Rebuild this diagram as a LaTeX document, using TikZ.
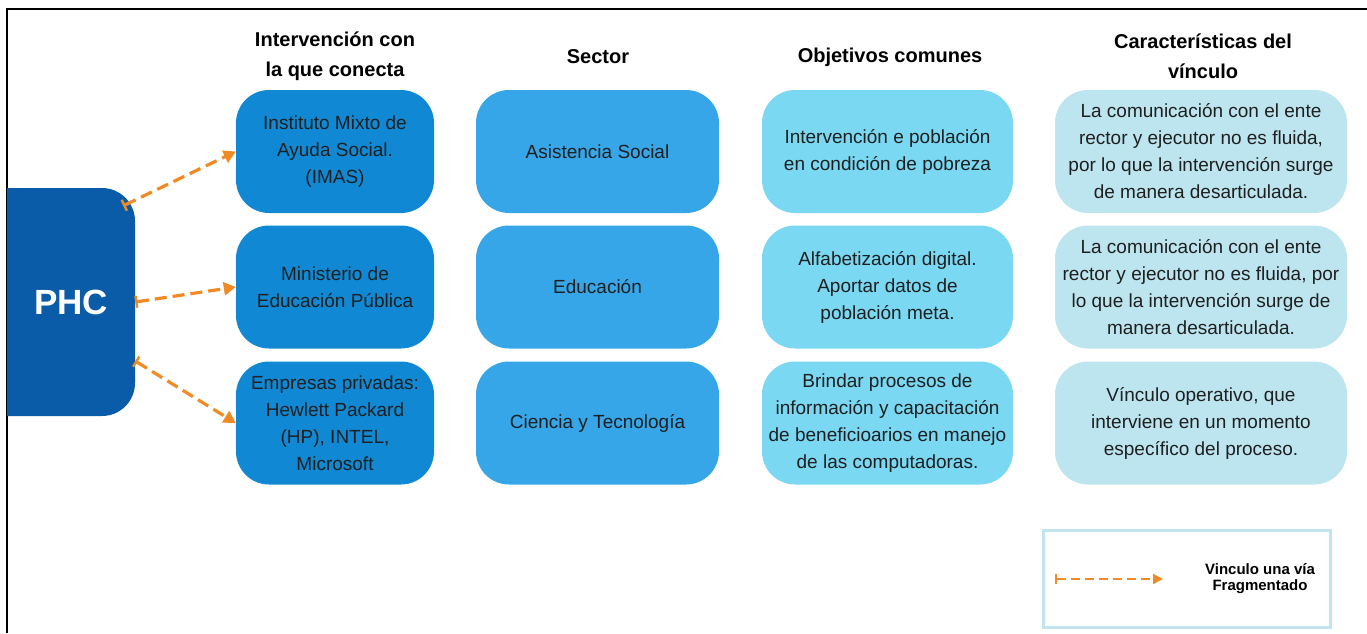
\documentclass[tikz,border=0pt]{standalone}
\usepackage{fontspec}
\setmainfont{Liberation Sans}
\usetikzlibrary{arrows.meta}
\definecolor{phcblue}{HTML}{0B5CA8}
\definecolor{introblue}{HTML}{1188D3}
\definecolor{sectorblue}{HTML}{36A6E8}
\definecolor{goalblue}{HTML}{7AD8F3}
\definecolor{bondblue}{HTML}{BDE5EF}
\definecolor{linkorange}{HTML}{F08A24}
\definecolor{legendframe}{HTML}{C2E4EE}
\tikzstyle{box}=[rounded corners=33pt, minimum height=123pt, inner sep=0pt, align=center, text=black!88, font=\fontsize{19}{27}\selectfont]
\tikzstyle{intervention}=[box, fill=introblue, minimum width=198pt]
\tikzstyle{sector}=[box, fill=sectorblue, minimum width=243pt]
\tikzstyle{goal}=[box, fill=goalblue, minimum width=251pt]
\tikzstyle{bond}=[box, fill=bondblue, minimum width=292pt]
\tikzstyle{header}=[align=center, font=\fontsize{20}{30}\selectfont\bfseries]
\tikzstyle{phantom phc}=[minimum width=128pt, minimum height=228pt, inner sep=0pt, text=white, font=\fontsize{35}{40}\selectfont\bfseries]
\tikzstyle{link}=[draw=linkorange, line width=3.2pt, dash pattern=on 12pt off 6pt, {Bar[width=12pt,line width=2.4pt]}-{Triangle[length=12pt,width=13pt]}]

\begin{document}
\begin{tikzpicture}[x=1pt, y=-1pt]
      \useasboundingbox (0, 0) rectangle (1367, 633);
      \draw[line width=2pt] (7, 633) -- (7, 9) -- (1367, 9);

      \fill[phcblue, rounded corners=33pt] (7, 188) -- (135, 188) -- (135, 416) -- (7, 416);
      \node[phantom phc] (phc) at (71, 302) {PHC};

      \node[header] (head_intervention) at (335, 56) {Intervención con\\la que conecta};
      \node[header] (head_sector) at (598, 57) {Sector};
      \node[header] (head_goal) at (890, 57) {Objetivos comunes};
      \node[header] (head_bond) at (1203, 56) {Características del\\vínculo};

      \node[intervention] (imas) at (335, 151.5) {Instituto Mixto de\\Ayuda Social.\\(IMAS)};
      \node[intervention] (mep) at (335, 287) {Ministerio de\\Educación Pública};
      \node[intervention] (private) at (335, 423) {Empresas privadas:\\Hewlett Packard\\(HP), INTEL,\\Microsoft};

      \node[sector] (social) at (597.5, 151.5) {Asistencia Social};
      \node[sector] (education) at (597.5, 287) {Educación};
      \node[sector] (science) at (597.5, 423) {Ciencia y Tecnología};

      \node[goal] (goal_poverty) at (887.5, 151.5) {Intervención e población\\en condición de pobreza};
      \node[goal] (goal_digital) at (887.5, 287) {Alfabetización digital.\\Aportar datos de\\población meta.};
      \node[goal] (goal_training) at (887.5, 423) {Brindar procesos de\\información y capacitación\\de beneficioarios en manejo\\de las computadoras.};

      \node[bond] (bond_imas) at (1201, 151.5) {La comunicación con el ente\\rector y ejecutor no es fluida,\\por lo que la intervención surge\\de manera desarticulada.};
      \node[bond] (bond_mep) at (1201, 287) {La comunicación con el ente\\rector y ejecutor no es fluida, por\\lo que la intervención surge de\\manera desarticulada.};
      \node[bond] (bond_private) at (1201, 423) {Vínculo operativo, que\\interviene en un momento\\específico del proceso.};

      \draw[link] ([xshift=-12pt, yshift=-18pt]phc.north east) to (imas.west);
      \draw[link] (phc.east) to (mep.west);
      \draw[link] ([yshift=-59pt]phc.east) to (private.west);

      \node[draw=legendframe, line width=3pt, minimum width=287pt, minimum height=97pt] (legend) at (1186.5, 578.5) {};
      \coordinate (legend_in) at (1055, 579);
      \coordinate (legend_out) at (1163, 579);
      \draw[link, line width=2.2pt, dash pattern=on 9pt off 5pt, {Bar[width=10pt,line width=2pt]}-{Triangle[length=10pt,width=10pt]}] (legend_in) to (legend_out);
      \node[align=center, font=\fontsize{15}{16}\selectfont\bfseries] (legend_text) at (1260, 579) {Vinculo una vía\\Fragmentado};
    \end{tikzpicture}
\end{document}
